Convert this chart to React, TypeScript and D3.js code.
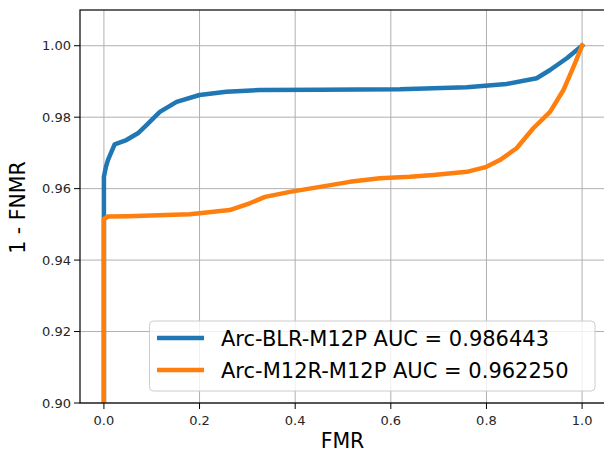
import React from "react";
import * as d3 from "d3";

const blueX = [0, 0, 0.0, 0.004, 0.0084, 0.0224, 0.047, 0.071, 0.089, 0.117, 0.152, 0.2, 0.256, 0.326, 0.45, 0.619, 0.759, 0.842, 0.905, 0.933, 0.968, 1.0];
const blueY = [0.90, 0.952, 0.9633, 0.966, 0.968, 0.9724, 0.9736, 0.9755, 0.9778, 0.9815, 0.9843, 0.9862, 0.9871, 0.9876, 0.9877, 0.9878, 0.9884, 0.9893, 0.9909, 0.9932, 0.9965, 1.0];

const orangeX = [0, 0, 0.008, 0.05, 0.179, 0.2, 0.263, 0.305, 0.337, 0.389, 0.452, 0.514, 0.577, 0.64, 0.689, 0.759, 0.8, 0.828, 0.863, 0.898, 0.933, 0.961, 0.982, 1.0];
const orangeY = [0.90, 0.9515, 0.9522, 0.9523, 0.9528, 0.9531, 0.9540, 0.9559, 0.9577, 0.9591, 0.9605, 0.9619, 0.9629, 0.9633, 0.9638, 0.9647, 0.9661, 0.968, 0.9713, 0.9769, 0.9815, 0.9876, 0.9941, 1.0];

const xTicks = [0.0, 0.2, 0.4, 0.6, 0.8, 1.0];
const yTicks = [0.90, 0.92, 0.94, 0.96, 0.98, 1.00];
const seriesNames = ["Arc-BLR-M12P AUC = 0.986443", "Arc-M12R-M12P AUC = 0.962250"];
const seriesColors = ["#1f77b4", "#ff7f0e"];

const W = 604, H = 454;
const L = 80, R = 606, T = 10, B = 403;
const FONT = "DejaVu Sans, sans-serif";

export default function App() {
  const x = d3.scaleLinear().domain([-0.05, 1.05]).range([L, R]);
  const y = d3.scaleLinear().domain([0.90, 1.01]).range([B, T]);
  const line = d3.line<[number, number]>().x(d => x(d[0])).y(d => y(d[1]));
  const series = [
    blueX.map((v, i) => [v, blueY[i]] as [number, number]),
    orangeX.map((v, i) => [v, orangeY[i]] as [number, number]),
  ];
  return (
    <svg width={W} height={H} style={{ position: "absolute", left: 0, top: 0, background: "#fff" }}>
      <defs>
        <clipPath id="plot"><rect x={L} y={T} width={R - L} height={B - T} /></clipPath>
      </defs>
      {xTicks.map(t => (
        <line key={"gx" + t} x1={x(t)} x2={x(t)} y1={T} y2={B} stroke="#b0b0b0" strokeWidth={1} />
      ))}
      {yTicks.map(t => (
        <line key={"gy" + t} x1={L} x2={R} y1={y(t)} y2={y(t)} stroke="#b0b0b0" strokeWidth={1} />
      ))}
      <g clipPath="url(#plot)">
        {series.map((s, i) => (
          <path key={i} d={line(s) || ""} fill="none" stroke={seriesColors[i]} strokeWidth={4.5} strokeLinejoin="round" strokeLinecap="square" />
        ))}
      </g>
      <rect x={L} y={T} width={R - L} height={B - T} fill="none" stroke="#000" strokeWidth={1.2} />
      {xTicks.map(t => (
        <g key={"tx" + t}>
          <line x1={x(t)} x2={x(t)} y1={B} y2={B + 6} stroke="#000" strokeWidth={1} />
          <text x={x(t)} y={B + 22} textAnchor="middle" fontFamily={FONT} fontSize={13} fill="#262626">{t.toFixed(1)}</text>
        </g>
      ))}
      {yTicks.map(t => (
        <g key={"ty" + t}>
          <line x1={L - 6} x2={L} y1={y(t)} y2={y(t)} stroke="#000" strokeWidth={1} />
          <text x={L - 9} y={y(t) + 4.5} textAnchor="end" fontFamily={FONT} fontSize={13} fill="#262626">{t.toFixed(2)}</text>
        </g>
      ))}
      <text x={342.5} y={448} textAnchor="middle" fontFamily={FONT} fontSize={20.5} fill="#000">FMR</text>
      <text transform="translate(25, 207.5) rotate(-90)" textAnchor="middle" fontFamily={FONT} fontSize={20.5} fill="#000">1 - FNMR</text>
      <rect x={149.5} y={321} width={445.5} height={70} rx={4} fill="#fff" fillOpacity={0.8} stroke="#cccccc" strokeWidth={1} />
      {seriesNames.map((n, i) => (
        <g key={n}>
          <line x1={157} x2={204} y1={338 + i * 32} y2={338 + i * 32} stroke={seriesColors[i]} strokeWidth={4.5} />
          <text x={221} y={338 + i * 32 + 7.5} fontFamily={FONT} fontSize={21} fill="#000">{n}</text>
        </g>
      ))}
    </svg>
  );
}
